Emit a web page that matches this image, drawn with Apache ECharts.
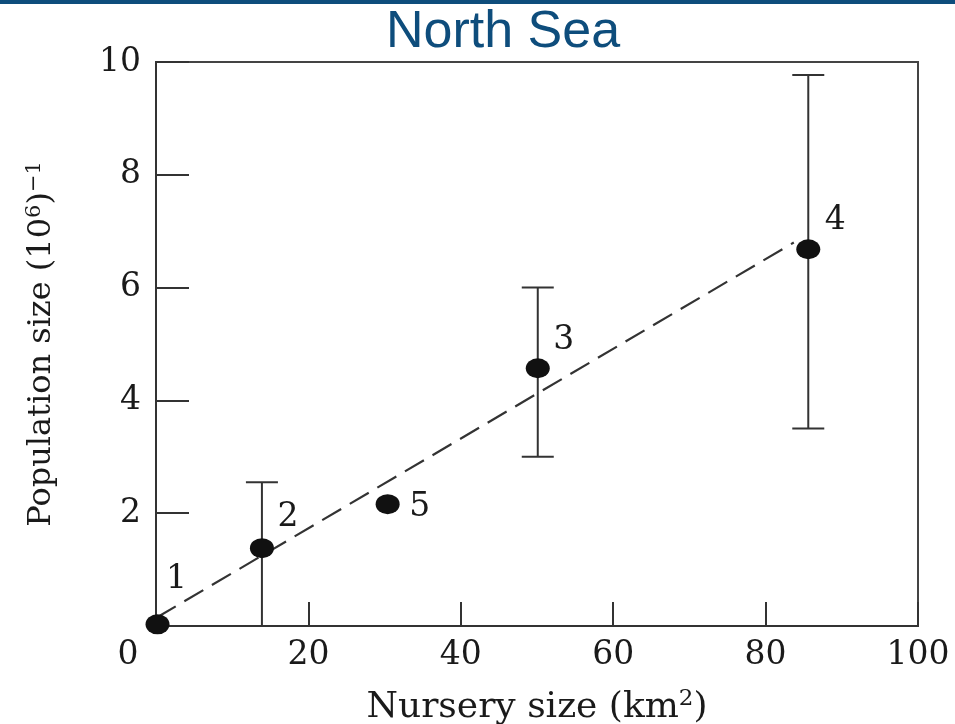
<!DOCTYPE html>
<html>
<head>
<meta charset="utf-8">
<script src="https://cdn.jsdelivr.net/npm/echarts@6/dist/echarts.min.js"></script>
<style>
html,body{margin:0;padding:0;background:#fff;}
#bar{position:absolute;left:0;top:0;width:955px;height:4px;background:#0E4D7C;z-index:5;}
#c{width:955px;height:724px;}
</style>
</head>
<body>
<div id="bar"></div>
<div id="c"></div>
<script>
// Data
var pointIds   = ['1', '2', '3', '4', '5'];
var nurserySize = [0.2, 13.9, 50.1, 85.6, 30.4];
var popSize     = [0.03, 1.38, 4.57, 6.68, 2.16];
var errLow      = [null, 0.0, 3.0, 3.5, null];
var errHigh     = [null, 2.55, 6.0, 9.77, null];
var fitX = [0.1, 83.7];
var fitY = [0.15, 6.8];
var xTicks = [0, 20, 40, 60, 80, 100];
var yTicks = [2, 4, 6, 8, 10];

var serif = '"DejaVu Serif", "Liberation Serif", serif';
var labelOffsets = {'1': [19, -45], '2': [26, -31], '3': [26, -28], '4': [27, -29], '5': [32, 3]};

var pts = pointIds.map(function (id, i) {
  return {
    value: [nurserySize[i], popSize[i]],
    label: { show: true, formatter: id, position: 'inside', offset: labelOffsets[id] }
  };
});
var errData = [];
pointIds.forEach(function (id, i) {
  if (errLow[i] !== null) errData.push([nurserySize[i], errLow[i], errHigh[i]]);
});

var chart = echarts.init(document.getElementById('c'), null, {renderer: 'canvas'});
chart.setOption({
  animation: false,
  backgroundColor: '#fff',
  title: {
    text: 'North Sea', left: 381, top: 2,
    textStyle: { fontFamily: '"Liberation Sans", Arial, sans-serif', fontSize: 52, fontWeight: 'normal', color: '#0E4D7C' }
  },
  grid: { left: 156, right: 37, top: 62, bottom: 98, containLabel: false, outerBoundsMode: 'none',
          show: true, borderColor: '#444', borderWidth: 2, backgroundColor: 'transparent' },
  xAxis: {
    type: 'value', min: 0, max: 100, interval: 20,
    axisLine: { show: true, lineStyle: { color: '#333', width: 2 } },
    axisTick: { show: true, inside: true, length: 24, lineStyle: { color: '#333', width: 2 } },
    splitLine: { show: false },
    axisLabel: {
      margin: 13, color: '#1a1a1a', fontFamily: serif, fontSize: 33,
      formatter: function (v) { return xTicks.indexOf(v) < 0 ? '' : (v === 0 ? '{z|0}' : String(v)); },
      rich: { z: { fontFamily: serif, fontSize: 33, color: '#1a1a1a', padding: [0, 56, 0, 0] } }
    },
    name: 'Nursery size (km{sup|2})',
    nameLocation: 'middle', nameGap: 62,
    nameTextStyle: {
      fontFamily: serif, fontSize: 36, color: '#1a1a1a',
      rich: { sup: { fontFamily: serif, fontSize: 23, color: '#1a1a1a', verticalAlign: 'top', padding: [0, 0, 16, 0] } }
    }
  },
  yAxis: {
    type: 'value', min: 0, max: 10, interval: 2,
    axisLine: { show: true, lineStyle: { color: '#333', width: 2 } },
    axisTick: { show: true, inside: true, length: 33, lineStyle: { color: '#333', width: 2 } },
    splitLine: { show: false },
    axisLabel: {
      margin: 15, color: '#1a1a1a', fontFamily: serif, fontSize: 33,
      formatter: function (v) { return yTicks.indexOf(v) < 0 ? '' : String(v); }
    },
    name: 'Population size (10{sup|6}){sup|−1}',
    nameLocation: 'middle', nameGap: 96,
    nameTextStyle: {
      fontFamily: serif, fontSize: 32, color: '#1a1a1a',
      rich: { sup: { fontFamily: serif, fontSize: 21, color: '#1a1a1a', verticalAlign: 'top', padding: [0, 0, 15, 0] } }
    }
  },
  series: [
    {
      type: 'line', data: [[fitX[0], fitY[0]], [fitX[1], fitY[1]]],
      symbol: 'none', z: 2,
      lineStyle: { color: '#333', width: 2.2, type: [22, 10] }
    },
    {
      type: 'custom', data: errData, z: 3,
      renderItem: function (params, api) {
        var x = api.value(0);
        var lo = api.coord([x, api.value(1)]);
        var hi = api.coord([x, api.value(2)]);
        var cap = 16;
        var st = { stroke: '#333', lineWidth: 2 };
        return {
          type: 'group',
          children: [
            { type: 'line', shape: { x1: lo[0], y1: lo[1], x2: hi[0], y2: hi[1] }, style: st },
            { type: 'line', shape: { x1: hi[0] - cap, y1: hi[1], x2: hi[0] + cap, y2: hi[1] }, style: st },
            { type: 'line', shape: { x1: lo[0] - cap, y1: lo[1], x2: lo[0] + cap, y2: lo[1] }, style: st }
          ]
        };
      }
    },
    {
      type: 'scatter', data: pts, z: 4,
      symbol: 'circle', symbolSize: [24, 20],
      itemStyle: { color: '#111', opacity: 1 },
      label: { fontFamily: serif, fontSize: 33, color: '#1a1a1a' }
    }
  ]
});
</script>
</body>
</html>
